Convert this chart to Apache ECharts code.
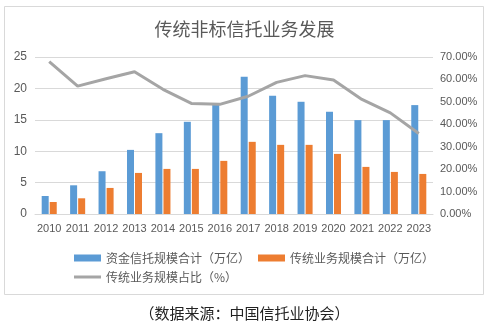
<!DOCTYPE html>
<html>
<head>
<meta charset="utf-8">
<script src="https://cdn.jsdelivr.net/npm/echarts@6/dist/echarts.min.js"></script>
<style>
html,body{margin:0;padding:0;background:#fff;}
#c{width:489px;height:336px;}
</style>
</head>
<body>
<div id="c"></div>
<script>
var categories = ['2010','2011','2012','2013','2014','2015','2016','2017','2018','2019','2020','2021','2022','2023'];
var fundTrust = [2.87, 4.57, 6.81, 10.21, 12.87, 14.68, 17.45, 21.86, 18.83, 17.87, 16.28, 14.95, 14.95, 17.34];
var traditional = [1.91, 2.5, 4.15, 6.54, 7.18, 7.18, 8.46, 11.49, 11.01, 11.01, 9.57, 7.5, 6.7, 6.38];
var ratio = [67.9, 57.0, 60.3, 63.4, 55.6, 49.3, 48.9, 52.5, 58.7, 61.7, 59.7, 51.1, 45.1, 35.9];
var names = ['资金信托规模合计（万亿）', '传统业务规模合计（万亿）', '传统业务规模占比（%）'];
var titleText = '传统非标信托业务发展';
var sourceText = '（数据来源：中国信托业协会）';

var fontLatin = '"Liberation Sans", "Noto Sans CJK SC", sans-serif';
var fontCJK = '"Noto Sans CJK SC", "Liberation Sans", sans-serif';
var chart = echarts.init(document.getElementById('c'), null, {renderer: 'canvas'});
chart.setOption({
  animation: false,
  backgroundColor: '#fff',
  title: {
    text: titleText, left: 'center', top: 15,
    textStyle: {fontSize: 18, fontWeight: 'normal', color: '#595959', fontFamily: fontCJK}
  },
  graphic: [
    {type: 'rect', shape: {x: 4.5, y: 6.5, width: 479, height: 288}, style: {fill: 'none', stroke: '#d9d9d9', lineWidth: 1}, z: -1},
    {type: 'text', left: 'center', top: 306, style: {text: sourceText, fontSize: 15, fill: '#222', fontFamily: fontCJK}}
  ],
  legend: [
    {data: [names[0], names[1]], left: 69, top: 247, itemWidth: 27, itemHeight: 7, itemGap: 8, icon: 'rect',
     textStyle: {fontSize: 12, color: '#595959', fontFamily: fontCJK}},
    {data: [{name: names[2], icon: 'rect'}], left: 69, top: 266, itemWidth: 27, itemHeight: 3,
     textStyle: {fontSize: 12, color: '#595959', fontFamily: fontCJK}}
  ],
  grid: {left: 35, right: 56, top: 57, bottom: 122},
  xAxis: {
    type: 'category', data: categories,
    axisLine: {lineStyle: {color: '#d9d9d9'}},
    axisTick: {show: false},
    axisLabel: {fontSize: 11, color: '#595959', margin: 9, interval: 0, fontFamily: fontLatin}
  },
  yAxis: [
    {type: 'value', min: 0, max: 25, interval: 5,
     axisLine: {show: false}, axisTick: {show: false},
     splitLine: {lineStyle: {color: '#d9d9d9'}},
     axisLabel: {fontSize: 12, color: '#595959', margin: 8, fontFamily: fontLatin}},
    {type: 'value', min: 0, max: 70, interval: 10, position: 'right',
     axisLine: {show: false}, axisTick: {show: false}, splitLine: {show: false},
     axisLabel: {fontSize: 11, color: '#595959', margin: 7, fontFamily: fontLatin,
       formatter: function (v) { return v.toFixed(2) + '%'; }}}
  ],
  series: [
    {name: names[0], type: 'bar', data: fundTrust, barWidth: 7, barGap: '15%', itemStyle: {color: '#5b9bd5'}},
    {name: names[1], type: 'bar', data: traditional, barWidth: 7, barGap: '15%', itemStyle: {color: '#ed7d31'}},
    {name: names[2], type: 'line', yAxisIndex: 1, data: ratio, symbol: 'none', showSymbol: false,
     lineStyle: {color: '#a5a5a5', width: 3}, itemStyle: {color: '#a5a5a5'}}
  ]
});
</script>
</body>
</html>
